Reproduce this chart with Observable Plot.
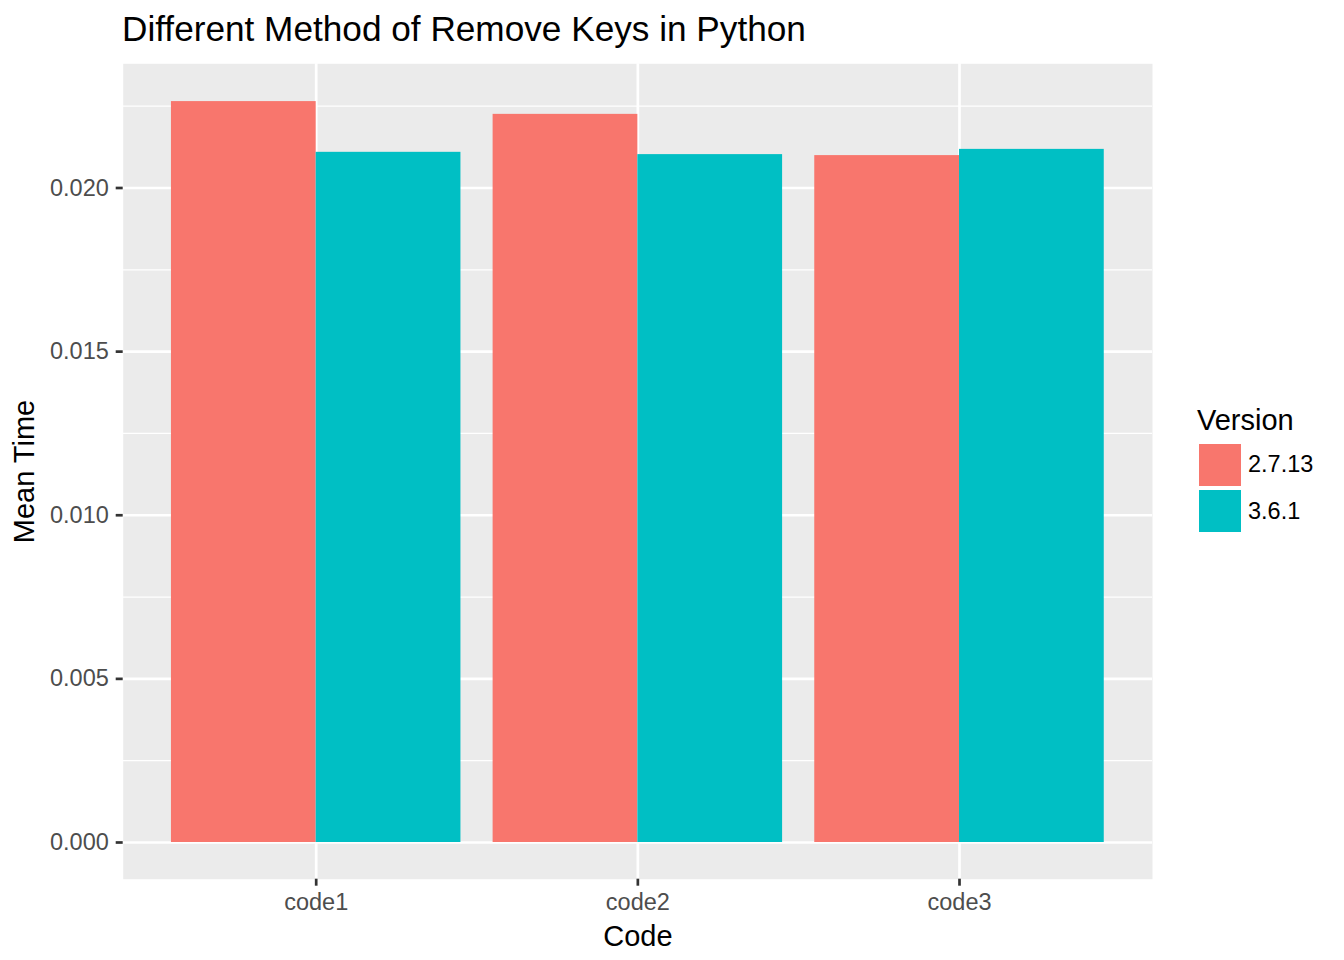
<!DOCTYPE html>
<html><head><meta charset="utf-8">
<script src="https://cdn.jsdelivr.net/npm/d3@7"></script>
<script src="https://cdn.jsdelivr.net/npm/@observablehq/plot@0.6"></script>
<style>
body{margin:0;background:#fff;font-family:"Liberation Sans",Arial,sans-serif;}
#wrap{position:relative;width:1344px;height:960px;overflow:hidden;}
#title{height:56px;box-sizing:border-box;padding-top:11px;padding-left:122px;font-size:35.2px;line-height:35px;color:#000;white-space:nowrap;}
#chart svg{display:block;}
.lg{position:absolute;white-space:nowrap;}
</style></head><body>
<div id="wrap">
<div id="title">Different Method of Remove Keys in Python</div>
<div id="chart"></div>
<div id="legend"></div>
</div>
<script>
const codes = ["code1", "code2", "code3"];
const versions = ["2.7.13", "3.6.1"];
const meanTime_2713 = [0.02264, 0.02225, 0.02099];
const meanTime_361 = [0.02109, 0.02102, 0.02118];
const colors = ["#F8766D", "#00BFC4"];
const yTicks = [0, 0.005, 0.010, 0.015, 0.020];
const yMinor = [0.0025, 0.0075, 0.0125, 0.0175, 0.0225];

const data = codes.flatMap((c, i) => [
  {code: c, version: versions[0], time: meanTime_2713[i]},
  {code: c, version: versions[1], time: meanTime_361[i]}
]);

const W = 1344, H = 904;
const margins = {marginTop: 7.3, marginBottom: 81.3, marginLeft: 122.7, marginRight: 192};
const xOpts = {type: "band", domain: codes, paddingInner: 0.1, paddingOuter: 0.15, align: 0.5, round: false};
const yOpts = {domain: [-0.0011215, 0.023795]};
const font = "'Liberation Sans', Arial, sans-serif";

function build(bw) {
  return Plot.plot({
    width: W, height: H, ...margins,
    x: {...xOpts, axis: null},
    y: {...yOpts, axis: null},
    color: {domain: versions, range: colors},
    style: {fontFamily: font, background: "transparent", overflow: "visible"},
    marks: [
      Plot.frame({fill: "#EBEBEB", stroke: null}),
      Plot.gridY(yMinor, {stroke: "#FFFFFF", strokeOpacity: 1, strokeWidth: 1.3}),
      Plot.gridY(yTicks, {stroke: "#FFFFFF", strokeOpacity: 1, strokeWidth: 2.7}),
      Plot.gridX(codes, {stroke: "#FFFFFF", strokeOpacity: 1, strokeWidth: 2.7}),
      Plot.barY(data.filter(d => d.version === versions[0]), {x: "code", y: "time", fill: "version", insetRight: bw / 2}),
      Plot.barY(data.filter(d => d.version === versions[1]), {x: "code", y: "time", fill: "version", insetLeft: bw / 2}),
      Plot.axisY(yTicks, {tickFormat: d3.format(".3f"), tickSize: 7, tickPadding: 7.4, fontSize: 23.5, fill: "#4D4D4D", stroke: "#333333", strokeWidth: 2.7, label: null}),
      Plot.axisY([], {label: "Mean Time", labelArrow: "none", labelAnchor: "center", labelOffset: 110, fontSize: 29, fill: "#000000", tickSize: 0}),
      Plot.axisX(codes, {tickSize: 7, tickPadding: 7.5, fontSize: 23.5, fill: "#4D4D4D", stroke: "#333333", strokeWidth: 2.7, label: null}),
      Plot.axisX([], {label: "Code", labelArrow: "none", labelAnchor: "center", labelOffset: 67, fontSize: 29, fill: "#000000", tickSize: 0})
    ]
  });
}

const probe = build(0);
const bw = probe.scale("x").bandwidth;
const chart = build(bw);
document.getElementById("chart").appendChild(chart);

const legend = document.getElementById("legend");
const lt = document.createElement("div");
lt.className = "lg";
Object.assign(lt.style, {left: "1197px", top: "406px", fontSize: "29px", lineHeight: "29px", color: "#000"});
lt.textContent = "Version";
legend.appendChild(lt);
const swTops = [443.5, 490];
const lbTops = [452.5, 499.5];
versions.forEach((v, i) => {
  const sw = document.createElement("div");
  sw.className = "lg";
  Object.assign(sw.style, {left: "1199px", top: swTops[i] + "px", width: "42px", height: "42px", background: colors[i]});
  legend.appendChild(sw);
  const lb = document.createElement("div");
  lb.className = "lg";
  Object.assign(lb.style, {left: "1248px", top: lbTops[i] + "px", fontSize: "23.5px", lineHeight: "23.5px", color: "#000"});
  lb.textContent = v;
  legend.appendChild(lb);
});
</script>
</body></html>
